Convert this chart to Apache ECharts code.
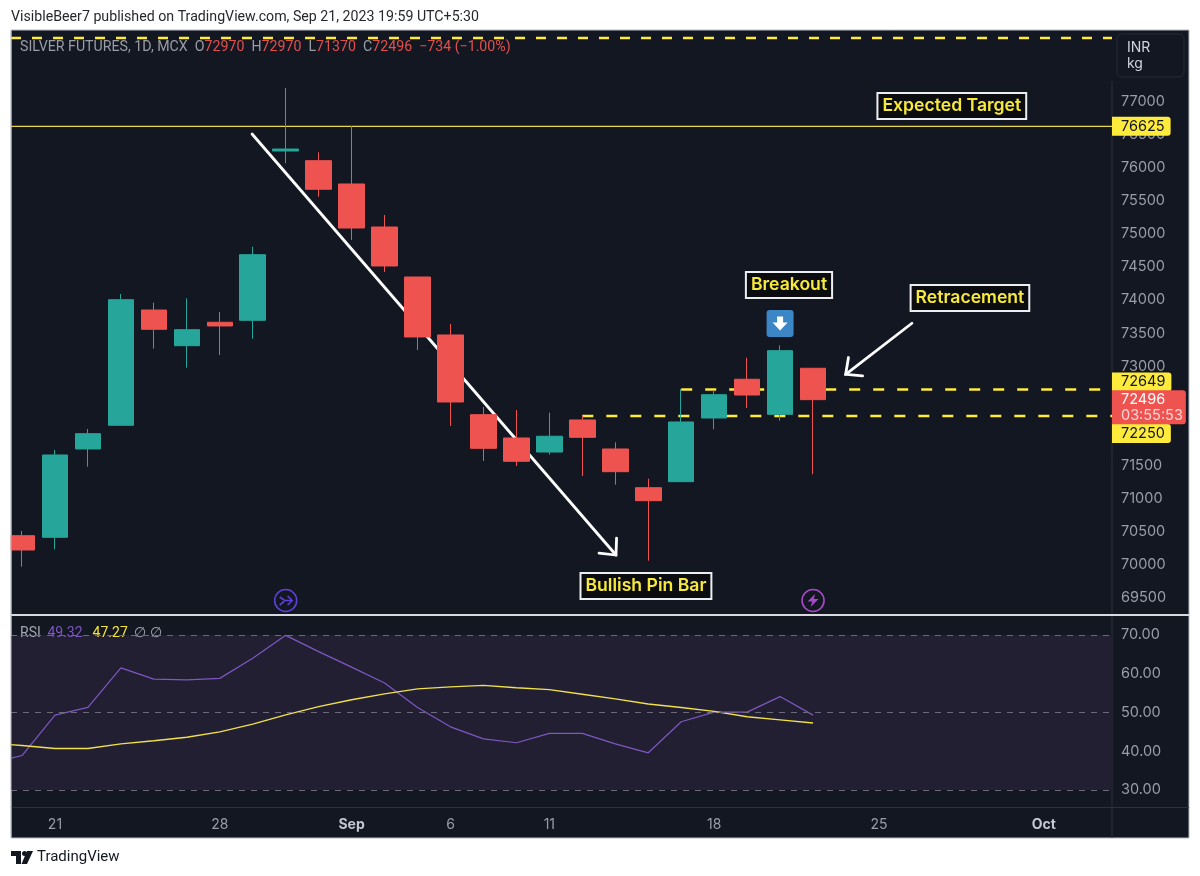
<!DOCTYPE html>
<html>
<head>
<meta charset="utf-8">
<title>Silver Futures</title>
<script src="https://cdn.jsdelivr.net/npm/echarts@6/dist/echarts.min.js"></script>
<style>
  html, body { margin: 0; padding: 0; background: #fff; }
  #chart { width: 1200px; height: 876px; }
</style>
</head>
<body>
<div id="chart"></div>
<script>
const dates = ['Aug 18', 'Aug 21', 'Aug 22', 'Aug 23', 'Aug 24', 'Aug 25', 'Aug 28', 'Aug 29', 'Aug 30', 'Aug 31', 'Sep 1', 'Sep 4', 'Sep 5', 'Sep 6', 'Sep 7', 'Sep 8', 'Sep 11', 'Sep 12', 'Sep 13', 'Sep 14', 'Sep 15', 'Sep 18', 'Sep 19', 'Sep 20', 'Sep 21']
const opens = [70441, 70417, 71751, 72109, 73850, 73311, 73665, 73695, 76252, 76106, 75754, 75104, 74349, 73473, 72269, 71917, 71705, 72189, 71751, 71166, 71257, 72219, 72804, 72275, 72970]
const closes = [70225, 71660, 71982, 74006, 73559, 73553, 73609, 74686, 76282, 75674, 75089, 74515, 73443, 72461, 71761, 71565, 71943, 71927, 71408, 70970, 72159, 72571, 72566, 73236, 72496]
const lows = [69973, 70235, 71483, 72109, 73266, 72979, 73171, 73417, 76066, 75562, 74908, 74424, 73246, 72098, 71569, 71494, 71665, 71343, 71211, 70063, 71257, 72048, 72370, 72178, 71370]
const highs = [70512, 71736, 72053, 74092, 73961, 74027, 73820, 74807, 77204, 76233, 76630, 75285, 74349, 73639, 72385, 72340, 72299, 72249, 71852, 71302, 72657, 72642, 73130, 73317, 72970]

// rsi lists start one session before the first candle, off the left edge
const rsiValues = [36.9, 38.9, 49.3, 51.3, 61.5, 58.6, 58.4, 58.8, 64.0, 69.9, 65.7, 61.7, 57.6, 51.3, 46.3, 43.2, 42.2, 44.6, 44.6, 41.9, 39.6, 47.6, 50.1, 50.1, 54.1, 49.32]
const rsiMaValues = [42.1, 41.5, 40.7, 40.7, 41.9, 42.7, 43.6, 45.0, 47.0, 49.4, 51.5, 53.3, 54.8, 56.1, 56.6, 57.0, 56.4, 55.9, 54.7, 53.5, 52.2, 51.3, 50.3, 48.9, 48.1, 47.27]

const priceTicks = [69500, 70000, 70500, 71000, 71500, 72000, 72500, 73000, 73500, 74000, 74500, 75000, 75500, 76000, 76500, 77000]
const rsiTicks = [30, 40, 50, 60, 70]
const dateTickIndex = [1, 6, 10, 13, 16, 21, 26, 31]
const dateTickText = ['21', '28', '{b|Sep}', '6', '11', '18', '25', '{b|Oct}']

const targetLevel = 76625
const topLevel = 77959
const upperBreakLevel = 72649
const lowerBreakLevel = 72250
const rsiLevels = [30, 50, 70]

// [x index, price, text]
const noteBoxes = [
  [28.21, 76932, 'Expected Target'],
  [23.27, 74228, 'Breakout'],
  [28.76, 74032, 'Retracement'],
  [18.93, 69681, 'Bullish Pin Bar'],
]
// [from x, from price, to x, to price]
const arrows = [
  [6.98, 76509, 18.02, 70149],
  [27.0, 73650, 24.99, 72879],
]

const up = '#26a69a'
const down = '#ef5350'
const yellow = '#ffeb3b'
const bg = '#131722'
const font = 'Inter, Roboto, sans-serif'

const xMin = -0.334
const xMax = 33.07

const candleData = dates.map((d, i) => [i, opens[i], closes[i], lows[i], highs[i]])

function levelSeries(name, from, level, color, width, dash) {
  return {
    name,
    type: 'line',
    xAxisIndex: 0,
    yAxisIndex: 0,
    data: [[from, level], [xMax, level]],
    showSymbol: false,
    silent: true,
    z: 1,
    lineStyle: { color, width, type: dash },
  }
}

function renderArrow(params, api) {
  const a = api.coord([api.value(0), api.value(1)])
  const b = api.coord([api.value(2), api.value(3)])
  const ang = Math.atan2(b[1] - a[1], b[0] - a[0])
  const arm = 17
  const spread = 0.75
  const lineStyle = { stroke: '#fff', lineWidth: 2.8, fill: null, lineCap: 'round', lineJoin: 'miter' }
  return {
    type: 'group',
    children: [
      { type: 'line', shape: { x1: a[0], y1: a[1], x2: b[0], y2: b[1] }, style: lineStyle },
      {
        type: 'polyline',
        shape: {
          points: [
            [b[0] - arm * Math.cos(ang - spread), b[1] - arm * Math.sin(ang - spread)],
            b,
            [b[0] - arm * Math.cos(ang + spread), b[1] - arm * Math.sin(ang + spread)],
          ],
        },
        style: lineStyle,
      },
    ],
  }
}

function renderNote(params, api) {
  const p = api.coord([api.value(0), api.value(1)])
  return {
    type: 'text',
    x: p[0],
    y: p[1],
    style: {
      text: noteBoxes[params.dataIndex][2],
      font: '600 17.6px ' + font,
      fill: '#f7e93c',
      align: 'center',
      verticalAlign: 'middle',
      backgroundColor: '#0b0c10',
      borderColor: '#eceef2',
      borderWidth: 2,
      padding: [3, 4, 3, 4],
    },
  }
}

function renderTag(params, api) {
  const p = api.coord([xMax, api.value(0)])
  const tag = api.value(1)
  const shift = [0, -7.5, 17.5][tag]
  return {
    type: 'text',
    x: p[0],
    y: p[1] + shift,
    style: {
      text: String(api.value(0)),
      font: '14.5px ' + font,
      fill: '#131722',
      align: 'left',
      verticalAlign: 'middle',
      backgroundColor: yellow,
      borderRadius: [0, 3, 3, 0],
      padding: [2, 6, 2, 9],
    },
  }
}

function renderLastPrice(params, api) {
  const p = api.coord([xMax, api.value(0)])
  return {
    type: 'text',
    x: p[0],
    y: p[1] + 7.5,
    style: {
      text: '{a|' + api.value(0) + '}\n{b|03:55:53}',
      font: '14.5px ' + font,
      fill: '#fff',
      align: 'left',
      verticalAlign: 'middle',
      backgroundColor: down,
      borderRadius: [0, 3, 3, 0],
      padding: [1, 3, 1, 9],
      rich: {
        a: { fill: '#fff', font: '14.5px ' + font, lineHeight: 16 },
        b: { fill: '#fbd5d4', font: '14.5px ' + font, lineHeight: 16 },
      },
    },
  }
}

function renderIcon(params, api) {
  const c = api.coord([api.value(0), api.value(1)])
  const kind = api.value(2)
  const at = pts => pts.map(q => [c[0] + q[0], c[1] + q[1]])
  if (kind === 0) {
    // breakout flag
    return {
      type: 'group',
      children: [
        { type: 'rect', shape: { x: c[0] - 13.5, y: c[1] - 13.5, width: 27, height: 27, r: 3 }, style: { fill: '#3d86c6' } },
        { type: 'polygon', shape: { points: at([[-3, -7], [3, -7], [3, -1], [7.5, -1], [0, 7], [-7.5, -1], [-3, -1]]) }, style: { fill: '#fff' } },
      ],
    }
  }
  const color = kind === 1 ? '#5f3fd8' : '#a64ac9'
  const ring = { type: 'circle', shape: { cx: c[0], cy: c[1], r: 11 }, style: { fill: 'none', stroke: color, lineWidth: 1.6 } }
  if (kind === 1) {
    return {
      type: 'group',
      children: [
        ring,
        { type: 'polyline', shape: { points: at([[-6, -3.5], [-1, 0], [6, 0]]) }, style: { fill: 'none', stroke: color, lineWidth: 1.6 } },
        { type: 'polyline', shape: { points: at([[2, -4.5], [6.5, 0], [2, 4.5]]) }, style: { fill: 'none', stroke: color, lineWidth: 1.6 } },
        { type: 'line', shape: { x1: c[0] - 6, y1: c[1] + 4.5, x2: c[0] - 1.5, y2: c[1] + 1 }, style: { stroke: color, lineWidth: 1.6 } },
      ],
    }
  }
  return {
    type: 'group',
    children: [
      ring,
      { type: 'polygon', shape: { points: at([[2, -6.5], [-5.5, 1], [-0.8, 1], [-2.5, 6.5], [5.5, -1.5], [0.8, -1.5]]) }, style: { fill: color } },
    ],
  }
}

const chart = echarts.init(document.getElementById('chart'))

chart.setOption({
  animation: false,
  backgroundColor: '#fff',
  textStyle: { fontFamily: font },
  graphic: [
    { type: 'rect', z: -10, silent: true, shape: { x: 11, y: 30, width: 1178, height: 808 }, style: { fill: bg, stroke: '#b9bcc4', lineWidth: 1 } },
    // the candle at the left edge is wider than what is left of its band
    { type: 'rect', z: 10, silent: true, shape: { x: 0, y: 30, width: 10.5, height: 808 }, style: { fill: '#fff' } },
    { type: 'line', z: 10, silent: true, shape: { x1: 11, y1: 30, x2: 11, y2: 838 }, style: { stroke: '#b9bcc4', lineWidth: 1 } },
    { type: 'line', z: 1, silent: true, shape: { x1: 1112, y1: 81, x2: 1112, y2: 838 }, style: { stroke: '#2e323d', lineWidth: 1 } },
    { type: 'line', z: 1, silent: true, shape: { x1: 11, y1: 807.5, x2: 1189, y2: 807.5 }, style: { stroke: '#2e323d', lineWidth: 1 } },
    { type: 'line', z: 3, silent: true, shape: { x1: 11, y1: 615, x2: 1189, y2: 615 }, style: { stroke: '#d8dae0', lineWidth: 2 } },
    { type: 'rect', z: 1, silent: true, shape: { x: 1117, y: 34, width: 67, height: 43, r: 5 }, style: { fill: bg, stroke: '#262a35', lineWidth: 1 } },
    { type: 'text', z: 4, silent: true, x: 1127, y: 48, style: { text: 'INR', font: '14px ' + font, fill: '#d1d4dc', verticalAlign: 'middle' } },
    { type: 'text', z: 4, silent: true, x: 1127, y: 64, style: { text: 'kg', font: '14px ' + font, fill: '#d1d4dc', verticalAlign: 'middle' } },
    {
      type: 'text', z: 4, silent: true, x: 11, y: 17,
      style: { text: 'VisibleBeer7 published on TradingView.com, Sep 21, 2023 19:59 UTC+5:30', font: '14.2px Roboto, sans-serif', fill: '#26282e', verticalAlign: 'middle' },
    },
    {
      type: 'text', z: 4, silent: true, x: 20, y: 47,
      style: {
        text: '{g|SILVER FUTURES, 1D, MCX  O}{r|72970}{g|  H}{r|72970}{g|  L}{r|71370}{g|  C}{r|72496}{r|  \u2212734 (\u22121.00%)}',
        verticalAlign: 'middle',
        rich: {
          g: { fill: '#9a9da6', font: '14.2px Roboto, sans-serif' },
          r: { fill: '#e2504e', font: '14.2px Roboto, sans-serif' },
        },
      },
    },
    {
      type: 'text', z: 4, silent: true, x: 20, y: 633,
      style: {
        text: '{g|RSI}  {p|49.32}   {y|47.27}  {g|\u2205} {g|\u2205}',
        verticalAlign: 'middle',
        rich: {
          g: { fill: '#a3a6af', font: '14px Roboto, sans-serif' },
          p: { fill: '#7e57c2', font: '14px Roboto, sans-serif' },
          y: { fill: '#f5e43c', font: '14px Roboto, sans-serif' },
        },
      },
    },
    { type: 'polygon', z: 4, silent: true, shape: { points: [[11, 851], [21, 851], [21, 864], [16, 864], [16, 856], [11, 856]] }, style: { fill: '#131722' } },
    { type: 'circle', z: 4, silent: true, shape: { cx: 24.5, cy: 853.5, r: 2.5 }, style: { fill: '#131722' } },
    { type: 'polygon', z: 4, silent: true, shape: { points: [[27, 851], [33, 851], [27, 864], [21.5, 864]] }, style: { fill: '#131722' } },
    { type: 'text', z: 4, silent: true, x: 37, y: 857.5, style: { text: 'TradingView', font: '15px Roboto, sans-serif', fill: '#131722', verticalAlign: 'middle' } },
  ],
  grid: [
    { left: 11, width: 1101, top: 30, height: 585 },
    { left: 11, width: 1101, top: 616, height: 191 },
  ],
  xAxis: [
    {
      type: 'value', gridIndex: 0, min: xMin, max: xMax,
      axisLine: { show: false }, axisTick: { show: false }, axisLabel: { show: false }, splitLine: { show: false },
    },
    {
      type: 'value', gridIndex: 1, min: xMin, max: xMax,
      axisLine: { show: false }, axisTick: { show: false }, splitLine: { show: false },
      axisLabel: {
        customValues: dateTickIndex,
        margin: 11,
        color: '#9a9da6',
        fontSize: 14,
        fontFamily: font,
        formatter: v => dateTickText[dateTickIndex.indexOf(v)],
        rich: { b: { color: '#c4c7cf', fontSize: 14, fontWeight: 'bold', fontFamily: font } },
      },
    },
  ],
  yAxis: [
    {
      type: 'value', gridIndex: 0, position: 'right', min: 69243, max: 78080,
      axisLine: { show: false }, axisTick: { show: false }, splitLine: { show: false },
      axisLabel: { customValues: priceTicks, margin: 9, padding: [6, 0, 0, 0], color: '#9a9da6', fontSize: 14.5, fontFamily: font, formatter: v => String(v) },
    },
    {
      type: 'value', gridIndex: 1, position: 'right', min: 25.62, max: 74.89,
      axisLine: { show: false }, axisTick: { show: false }, splitLine: { show: false },
      axisLabel: { customValues: rsiTicks, margin: 9, padding: [6, 0, 0, 0], color: '#9a9da6', fontSize: 14.5, fontFamily: font, formatter: v => v.toFixed(2) },
    },
  ],
  series: [
    levelSeries('top level', xMin, topLevel, yellow, 2.6, [10, 11]),
    levelSeries('target', xMin, targetLevel, '#e9d64a', 1.3, 'solid'),
    levelSeries('upper break', 20, upperBreakLevel, yellow, 2.6, [11, 13]),
    levelSeries('lower break', 17, lowerBreakLevel, yellow, 2.6, [11, 13]),
    {
      type: 'custom',
      name: 'arrows',
      xAxisIndex: 0,
      yAxisIndex: 0,
      silent: true,
      z: 1,
      data: arrows,
      renderItem: renderArrow,
    },
    {
      type: 'candlestick',
      name: 'SILVER FUTURES',
      xAxisIndex: 0,
      yAxisIndex: 0,
      barWidth: 26,
      z: 2,
      data: candleData,
      itemStyle: { color: up, color0: down, borderColor: up, borderColor0: down, borderWidth: 1 },
    },
    {
      type: 'custom',
      name: 'notes',
      xAxisIndex: 0,
      yAxisIndex: 0,
      silent: true,
      z: 5,
      data: noteBoxes.map(n => [n[0], n[1]]),
      renderItem: renderNote,
    },
    {
      type: 'custom',
      name: 'icons',
      xAxisIndex: 0,
      yAxisIndex: 0,
      silent: true,
      z: 5,
      data: [[23, 73646, 0], [8, 69462, 1], [24, 69462, 2]],
      renderItem: renderIcon,
    },
    {
      type: 'custom',
      name: 'tags',
      xAxisIndex: 0,
      yAxisIndex: 0,
      silent: true,
      z: 6,
      data: [[targetLevel, 0], [upperBreakLevel, 1], [lowerBreakLevel, 2]],
      renderItem: renderTag,
    },
    {
      type: 'custom',
      name: 'last price',
      xAxisIndex: 0,
      yAxisIndex: 0,
      silent: true,
      z: 7,
      data: [[closes[closes.length - 1]]],
      renderItem: renderLastPrice,
    },
    {
      type: 'line',
      name: 'RSI',
      xAxisIndex: 1,
      yAxisIndex: 1,
      data: rsiValues.map((v, i) => [i - 1, v]),
      showSymbol: false,
      silent: true,
      z: 3,
      lineStyle: { color: '#7e57c2', width: 1.2 },
      markArea: {
        silent: true,
        itemStyle: { color: '#221f33' },
        data: [[{ yAxis: rsiLevels[0] }, { yAxis: rsiLevels[2] }]],
      },
      markLine: {
        silent: true,
        symbol: 'none',
        label: { show: false },
        lineStyle: { color: '#6d6b7a', type: [6, 6], width: 1 },
        data: rsiLevels.map(v => ({ yAxis: v })),
      },
    },
    {
      type: 'line',
      name: 'RSI MA',
      xAxisIndex: 1,
      yAxisIndex: 1,
      data: rsiMaValues.map((v, i) => [i - 1, v]),
      showSymbol: false,
      silent: true,
      z: 4,
      lineStyle: { color: '#f0e04a', width: 1.4 },
    },
  ],
})
</script>
</body>
</html>
